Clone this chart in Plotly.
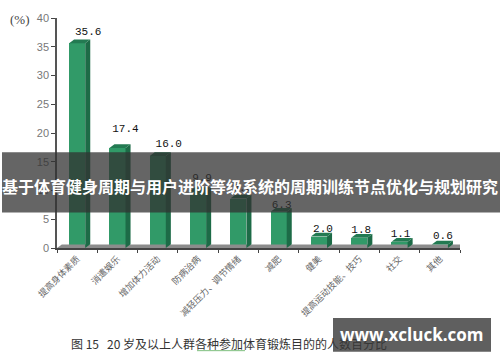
import plotly.graph_objects as go

categories = ["提高身体素质", "消遣娱乐", "增加体力活动", "防病治病", "减轻压力、调节情绪",
              "减肥", "健美", "提高运动技能、技巧", "社交", "其他"]
values = [35.6, 17.4, 16.0, 9.9, 8.6, 6.3, 2.0, 1.8, 1.1, 0.6]
value_labels = ["35.6", "17.4", "16.0", "9.9", "8.6", "6.3", "2.0", "1.8", "1.1", "0.6"]
y_ticks = [0, 5, 10, 15, 20, 25, 30, 35, 40]
label_dx_px = [11, 8, 11, 4, 4, 3, 4, 2, 1, 3]
label_dy_px = [6, 13, 6, 7, 5, 1, 2, 2, 2, 3]

title_text = "基于体育健身周期与用户进阶等级系统的周期训练节点优化与规划研究"
caption = "图 15   20 岁及以上人群各种参加体育锻炼目的的人数百分比"
watermark = "www.xcluck.com"

W, H = 500, 362
L, R, T, B = 57, 40, 15, 114
PW, PH = W - L - R, H - T - B
px_x = lambda p: (p - L) / PW
px_y = lambda p: (H - B - p) / PH
BAR_W, DX, DY = 0.40, 0.125, 0.65
xs = list(range(len(values)))
fig = go.Figure()

# floor
fig.add_trace(go.Scatter(x=[-0.5, 9.5, 9.65, -0.38, -0.5], y=[0, 0, 0.6, 0.6, 0], fill="toself",
                         fillcolor="#8c8c8c", mode="lines", line=dict(color="#8c8c8c", width=0),
                         hoverinfo="skip", showlegend=False))
# front faces
fig.add_trace(go.Bar(x=xs, y=values, width=BAR_W, marker=dict(color="#319a68", line=dict(width=0)),
                     showlegend=False))
# side and top faces, derived from values
for i, v in zip(xs, values):
    x1 = i + BAR_W / 2
    x0 = i - BAR_W / 2
    fig.add_trace(go.Scatter(x=[x1, x1 + DX, x1 + DX, x1, x1], y=[0, DY, v + DY, v, 0], fill="toself",
                             fillcolor="#1d6b47", mode="lines", line=dict(width=0),
                             hoverinfo="skip", showlegend=False))
    fig.add_trace(go.Scatter(x=[x0, x0 + DX, x1 + DX, x1, x0], y=[v, v + DY, v + DY, v, v], fill="toself",
                             fillcolor="#237a52", mode="lines", line=dict(width=0),
                             hoverinfo="skip", showlegend=False))
# value labels
fig.add_trace(go.Scatter(x=[i + dx / (PW / 10) for i, dx in zip(xs, label_dx_px)],
                         y=[v + dy / (PH / 40) for v, dy in zip(values, label_dy_px)],
                         mode="text", text=value_labels, textposition="top center",
                         textfont=dict(family="Liberation Mono", size=11, color="#111111"),
                         hoverinfo="skip", showlegend=False))
# category labels axis
fig.add_trace(go.Scatter(x=categories, y=values, xaxis="x2", mode="markers", marker=dict(opacity=0),
                         hoverinfo="skip", showlegend=False))

shapes = [
    # band over chart
    dict(type="rect", xref="x domain", yref="y domain", layer="above", line=dict(width=0),
         fillcolor="rgba(50,50,50,0.75)",
         x0=px_x(2), x1=px_x(W), y0=px_y(212), y1=px_y(151)),
    # caption carried by a transparent shape so the watermark box covers it
    dict(type="rect", xref="x domain", yref="y domain", layer="above", line=dict(width=0),
         fillcolor="rgba(0,0,0,0)",
         x0=px_x(65), x1=px_x(389), y0=px_y(354), y1=px_y(339),
         label=dict(text=caption, textposition="middle left",
                    font=dict(family="Noto Sans CJK SC", size=12, color="#333333"))),
    # squiggle under the caption
    dict(type="line", xref="x domain", yref="y domain", layer="above",
         line=dict(color="#7fbf7f", width=1),
         x0=px_x(197), x1=px_x(245), y0=px_y(352), y1=px_y(352)),
    # watermark box
    dict(type="rect", xref="x domain", yref="y domain", layer="above", line=dict(width=0),
         fillcolor="rgba(55,55,55,0.8)",
         x0=px_x(333), x1=px_x(491), y0=px_y(353), y1=px_y(319)),
]

annotations = [
    dict(text=title_text, xref="paper", yref="paper", x=px_x(250), y=px_y(185), showarrow=False,
         font=dict(family="Noto Sans CJK SC", size=16, color="white", weight="bold"),
         xanchor="center", yanchor="middle"),
    dict(text=watermark, xref="paper", yref="paper", x=px_x(412), y=px_y(336), showarrow=False,
         font=dict(family="Open Sans", size=17, color="white", weight="bold"),
         xanchor="center", yanchor="middle"),
    dict(text="(%)", xref="paper", yref="paper", x=px_x(20), y=px_y(17), showarrow=False,
         font=dict(family="Liberation Serif", size=13, color="#444444"),
         xanchor="center", yanchor="middle"),
]

fig.update_layout(
    width=W, height=H, margin=dict(l=L, r=R, t=T, b=B, pad=0),
    paper_bgcolor="white", plot_bgcolor="white", bargap=0, showlegend=False,
    shapes=shapes, annotations=annotations,
    xaxis=dict(range=[-0.5, 9.5], tickmode="array", tickvals=[i - 0.5 for i in range(11)], ticktext=[""] * 11,
               ticks="outside", ticklen=3, tickcolor="#444444", showgrid=False, zeroline=False,
               showline=True, linecolor="#444444", linewidth=1.5),
    xaxis2=dict(overlaying="x", anchor="y", side="bottom", type="category", categoryorder="array",
                categoryarray=categories, range=[-0.5, 9.5], tickangle=-45, ticks="", showgrid=False,
                zeroline=False, showline=False, ticklabelstandoff=3,
                tickfont=dict(family="Noto Sans CJK SC", size=9, color="#666666")),
    yaxis=dict(range=[0, 40], tickvals=y_ticks, ticks="outside", ticklen=4, tickcolor="#444444",
               showgrid=False, zeroline=False, showline=True, linecolor="#555555", linewidth=1.5,
               tickfont=dict(family="Liberation Sans", size=11, color="#777777")),
)

fig.write_html("out.html", config={"displayModeBar": False},
               post_script="document.body.style.margin='0';document.body.style.overflow='hidden';window.dispatchEvent(new Event('resize'));")
